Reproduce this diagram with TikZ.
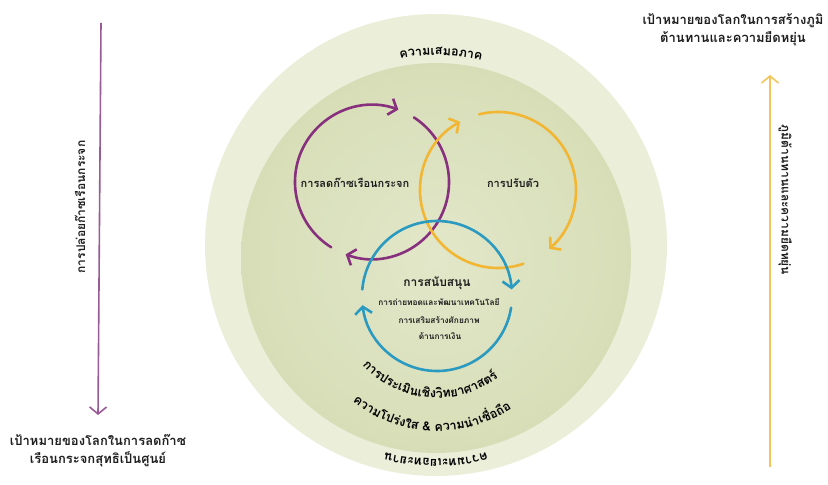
\documentclass[tikz,border=0pt]{standalone}
\usepackage{fontspec}
\newfontfamily\thai[Script=Thai]{Loma}
\usetikzlibrary{arrows.meta,decorations.text,calc}
\definecolor{outerring}{HTML}{EBEFDA}
\definecolor{innerring}{HTML}{D7DEB7}
\definecolor{innerc}{HTML}{E2E7C9}
\definecolor{purp}{HTML}{87307E}
\definecolor{yell}{HTML}{F2B633}
\definecolor{blu}{HTML}{2B9AC0}
\definecolor{lpurp}{HTML}{9A5A97}
\definecolor{lyell}{HTML}{F5C55A}
\definecolor{txt}{HTML}{1E1E1E}
\newcommand{\ringfont}{\thai\bfseries\fontsize{12.5}{13}\selectfont}
\tikzset{
  cyc/.style={line width=2.6pt, line cap=round, -{Straight Barb[length=7pt,width=17pt,line width=2.6pt]}},
  side/.style={line width=1.6pt, -{Straight Barb[length=7pt,width=17pt,line width=1.6pt]}},
  lbl/.style={font=\thai\bfseries\fontsize{11}{13}\selectfont, text=txt, inner sep=0pt},
  sublbl/.style={font=\thai\bfseries\fontsize{8.3}{10}\selectfont, text=txt, inner sep=0pt},
  goal/.style={font=\thai\bfseries\fontsize{13}{15}\selectfont, text=txt, inner sep=0pt},
  sidetxt/.style={font=\thai\bfseries\fontsize{12}{13}\selectfont, text=txt, inner sep=0pt}
}
\begin{document}
\begin{tikzpicture}[x=1pt,y=1pt]
\useasboundingbox (0,0) rectangle (828,485);
\fill[white] (0,0) rectangle (828,485);
% rings
\coordinate (oc) at (436,240);
\coordinate (ic) at (436,227);
\fill[outerring] (oc) circle[radius=231];
\shade[inner color=innerc, outer color=innerring] (ic) circle[radius=195];
% cycle centres
\coordinate (pc) at (372,303);
\coordinate (yc) at (498,295);
\coordinate (bc) at (437,189);
% purple cycle
\draw[cyc, purp] ($(pc)+(238:77)$) arc[start angle=238, end angle=70, radius=77];
\draw[cyc, purp] ($(pc)+(57:77)$) arc[start angle=57, end angle=-110, radius=77];
% yellow cycle
\draw[cyc, yell] ($(yc)+(104:78)$) arc[start angle=104, end angle=-49, radius=78];
\draw[cyc, yell] ($(yc)+(-71:78)$) arc[start angle=-71, end angle=-241, radius=78];
% blue cycle
\draw[cyc, blu] ($(bc)+(-9:75)$) arc[start angle=-9, end angle=-173, radius=75];
\draw[cyc, blu] ($(bc)+(175:75)$) arc[start angle=175, end angle=5, radius=75];
% inner labels
\node[lbl] (mit) at (355,302) {การลดก๊าซเรือนกระจก};
\node[lbl] (ada) at (513,302) {การปรับตัว};
\node[lbl, font=\thai\bfseries\fontsize{12}{14}\selectfont] (sup) at (437,202) {การสนับสนุน};
\node[sublbl] (sup1) at (439,183) {การถ่ายทอดและพัฒนาเทคโนโลยี};
\node[sublbl] (sup2) at (439,165) {การเสริมสร้างศักยภาพ};
\node[sublbl] (sup3) at (440,149) {ด้านการเงิน};
% curved ring texts
\path[decorate, decoration={text along path, text align=center,
  text={|\ringfont|ความเสมอภาค}}]
  ($(oc)+(110:190)$) arc[start angle=110, end angle=67, radius=190];
\path[decorate, decoration={text along path, text align=center,
  text={|\ringfont|ความทะเยอทะยาน}}]
  ($(oc)+(290:214)$) arc[start angle=290, end angle=250, radius=214];
\path[decorate, decoration={text along path, text align=center,
  text={|\ringfont|การประเ{มิ}นเ{ชิ}ง{วิ}ทยาศาสต{ร์}}}]
  ($(bc)+(190:102)$) arc[start angle=190, end angle=340, radius=102];
\path[decorate, decoration={text along path, text align=center,
  text={|\ringfont|ความโป{ร่}งใส {\&} ความ{น่}าเ{ชื่}อ{ถื}อ}}]
  ($(bc)+(200:135)$) arc[start angle=200, end angle=335, radius=135];
% left side
\coordinate (ltop) at (101,462);
\node[goal, align=center] (lgoal) at (98,34) {เป้าหมายของโลกในการลดก๊าซ\\[3pt]เรือนกระจกสุทธิเป็นศูนย์};
\draw[side, lpurp] (ltop) -- (lgoal.north |- 0,70);
\node[sidetxt, rotate=90] (ltxt) at (80,278) {การปล่อยก๊าซเรือนกระจก};
% right side
\coordinate (rbot) at (770,18);
\node[goal, align=center] (rgoal) at (733,455) {เป้าหมายของโลกในการสร้างภูมิ\\[3pt]ต้านทานและความยืดหยุ่น};
\draw[side, lyell] (rbot) -- (770,410);
\node[sidetxt, rotate=-90] (rtxt) at (785,285) {ภูมิต้านทานและความยืดหยุ่น};
\end{tikzpicture}
\end{document}
